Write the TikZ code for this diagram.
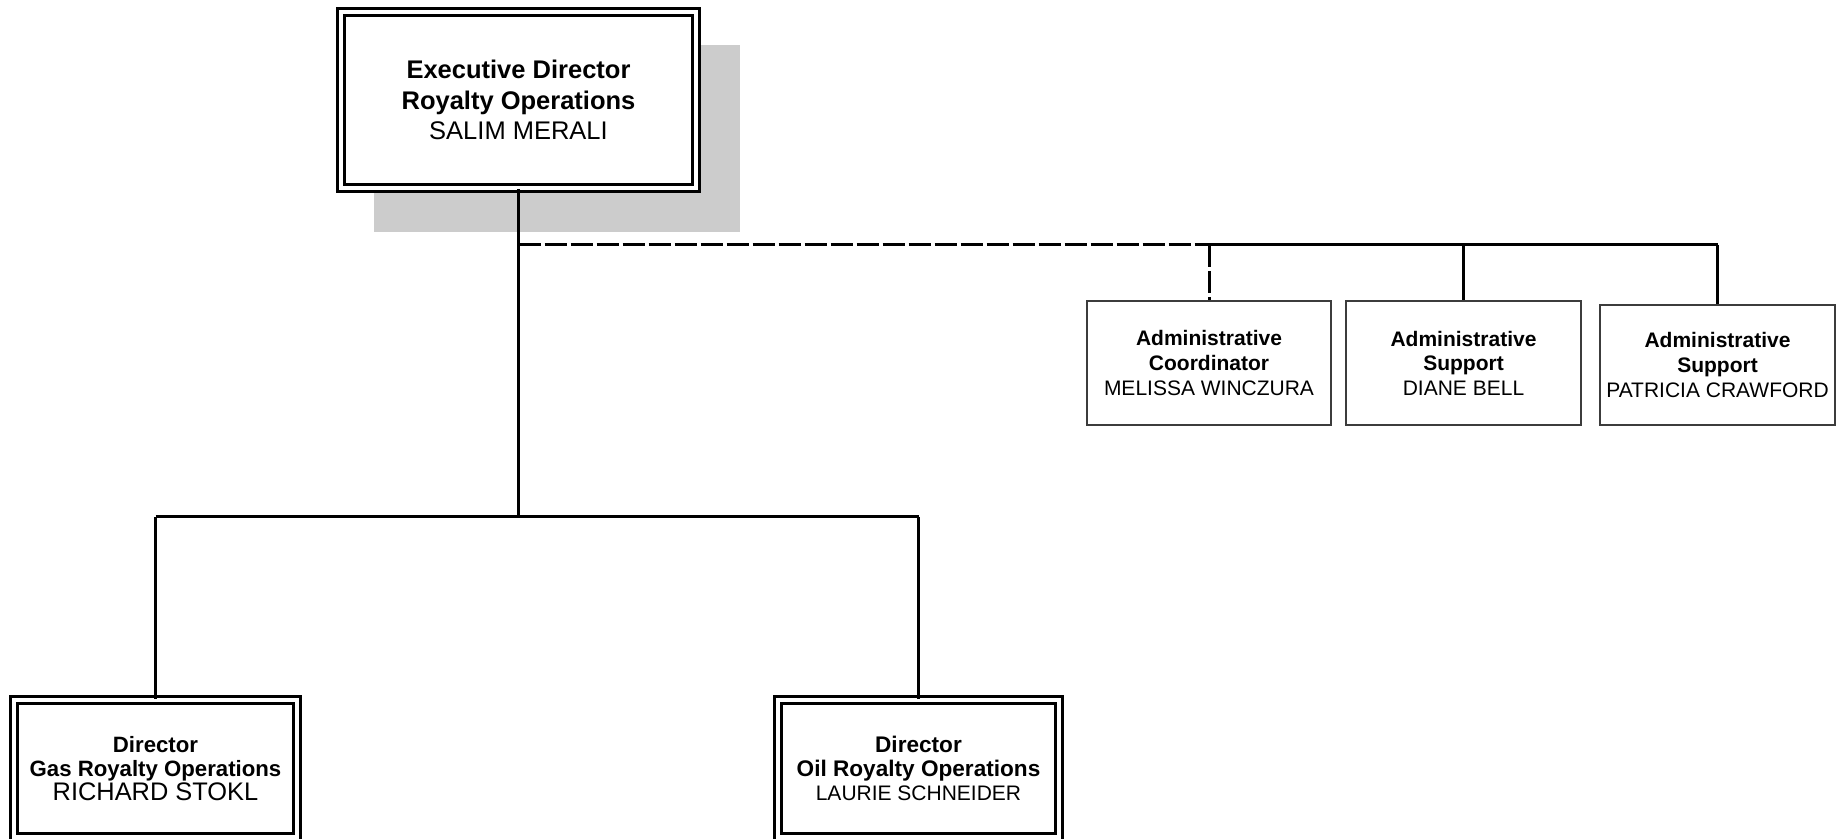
\documentclass[tikz,border=0pt]{standalone}
\usepackage{fontspec}
\setmainfont{Liberation Sans}
\definecolor{shadowgray}{RGB}{204,204,204}
\definecolor{thinline}{RGB}{60,60,60}
\begin{document}
\begin{tikzpicture}[x=0.5pt,y=-0.5pt,
  dbox/.style={draw=black, line width=1.35pt, double=white, double distance=2.3pt,
    rectangle, inner sep=0pt, align=center},
  abox/.style={draw=thinline, line width=0.75pt, rectangle, inner sep=0pt, align=center,
    font=\fontsize{10.5pt}{12.3pt}\selectfont},
  conn/.style={draw=black, line width=1.5pt},
  dconn/.style={draw=black, line width=1.5pt, dash pattern=on 11pt off 2pt}]
\useasboundingbox (0,0) rectangle (1837,839);
% shadow
\fill[shadowgray] (374,45) rectangle (740,232);
% nodes
\node[dbox, fill=white, minimum width=177.5pt, minimum height=88pt,
  font=\fontsize{12.75pt}{15.2pt}\selectfont] (top) at (518.5,100)
  {\textbf{Executive Director}\\\textbf{Royalty Operations}\\SALIM MERALI};
\node[dbox, minimum width=141.5pt, minimum height=68.5pt] (gas) at (155.5,768.5)
  {\fontsize{11.1pt}{13pt}\selectfont\textbf{Director}\\
   \fontsize{11.1pt}{13pt}\selectfont\textbf{Gas Royalty Operations}\\
   \fontsize{12.7pt}{13.5pt}\selectfont RICHARD STOKL};
\node[dbox, minimum width=140.5pt, minimum height=68.5pt] (oil) at (918.5,768.5)
  {\fontsize{11.3pt}{12.4pt}\selectfont\textbf{Director}\\
   \fontsize{11.3pt}{12.4pt}\selectfont\textbf{Oil Royalty Operations}\\
   \fontsize{10.5pt}{12.4pt}\selectfont LAURIE SCHNEIDER};
\node[abox, minimum width=122pt, minimum height=62pt] (ad1) at (1209,363)
  {\textbf{Administrative}\\\textbf{Coordinator}\\MELISSA WINCZURA};
\node[abox, minimum width=117.5pt, minimum height=62pt] (ad2) at (1463.5,363)
  {\textbf{Administrative}\\\textbf{Support}\\DIANE BELL};
\node[abox, minimum width=117.5pt, minimum height=60pt] (ad3) at (1717.5,365)
  {\textbf{Administrative}\\\textbf{Support}\\PATRICIA CRAWFORD};
% junction coordinates
\coordinate (jdown) at (518.5,517);
\coordinate (jgas) at (155.5,517);
\coordinate (joil) at (918.5,517);
\coordinate (jdash) at (518.5,245);
\coordinate (ja1) at (1209,245);
\coordinate (ja2) at (1463.5,245);
\coordinate (ja3) at (1717.5,245);
% connectors
\draw[conn] (top.south) -- (jdown);
\draw[conn] (jgas) -- (joil);
\draw[conn] (jgas) -- (gas.north);
\draw[conn] (joil) -- (oil.north);
\draw[dconn] (jdash) -- (ja1);
\draw[dconn] (ja1) -- (ad1.north);
\draw[conn] (ja1) -- (ja3);
\draw[conn] (ja2) -- (ad2.north);
\draw[conn] (ja3) -- (ad3.north);
\end{tikzpicture}
\end{document}
